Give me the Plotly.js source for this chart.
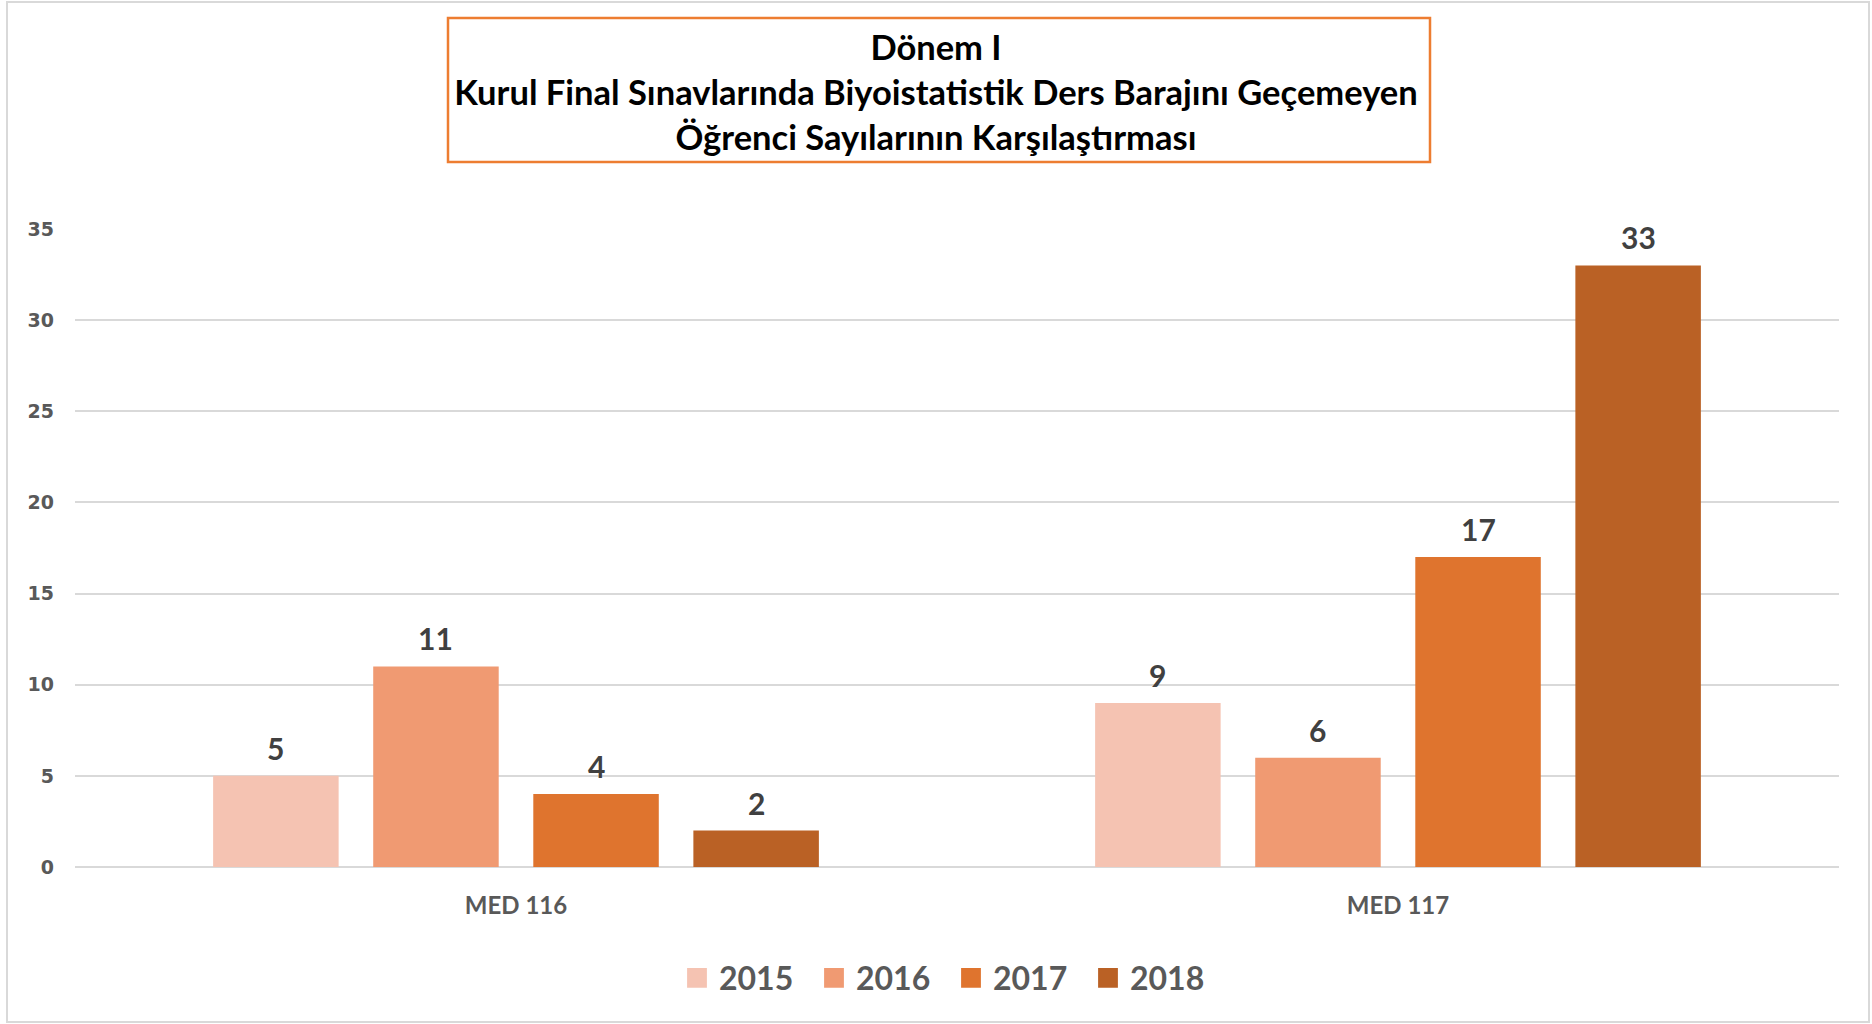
<!DOCTYPE html>
<html>
<head>
<meta charset="utf-8">
<script src="https://cdn.plot.ly/plotly-3.0.1.min.js"></script>
<style>
html,body{margin:0;padding:0;background:#fff}
#chart .legend .legendpoints path{transform:translate(18px,0) scale(1.65);}
</style>
</head>
<body>
<div id="chart" style="width:1872px;height:1024px"></div>
<script>
// ---- data ----
const categories = ["MED 116", "MED 117"];
const years = ["2015", "2016", "2017", "2018"];
const values2015 = [5, 9];
const values2016 = [11, 6];
const values2017 = [4, 17];
const values2018 = [2, 33];
const titleLines = [
  "Dönem I",
  "Kurul Final Sınavlarında Biyoistatistik Ders Barajını Geçemeyen",
  "Öğrenci Sayılarının Karşılaştırması"
];
const yTicks = [0, 5, 10, 15, 20, 25, 30, 35];

// ---- style ----
const colors = ["#F5C3B2", "#F09A72", "#DF742E", "#BA6125"];
const series = [values2015, values2016, values2017, values2018];
const W = 1872, H = 1024;
const M = {l: 75, r: 33, t: 229, b: 157};
const bargap = 0.274, bargroupgap = 0.216;
const plotW = W - M.l - M.r, plotH = H - M.t - M.b;
const px2x = p => (p - M.l) / plotW;
const px2y = p => (H - M.b - p) / plotH;
const catPx = plotW / categories.length;
const slotPx = catPx * (1 - bargap) / series.length;
const labelFont = {family: "Lato, 'Noto Sans', sans-serif", size: 30, color: "#404040", weight: 700};

const traces = series.map((vals, i) => ({
  type: "bar",
  name: years[i],
  x: categories,
  y: vals,
  marker: {color: colors[i], line: {width: 0}},
  hoverinfo: "x+y+name"
}));

const annotations = [];
series.forEach((vals, i) => {
  vals.forEach((v, j) => {
    annotations.push({
      x: categories[j], y: v, xref: "x", yref: "y",
      text: String(v), showarrow: false,
      xanchor: "center", yanchor: "bottom",
      xshift: (i - (series.length - 1) / 2) * slotPx,
      yshift: 8,
      font: labelFont
    });
  });
});

const layout = {
  width: W, height: H,
  margin: M,
  paper_bgcolor: "#ffffff",
  plot_bgcolor: "#ffffff",
  barmode: "group",
  bargap: bargap,
  bargroupgap: bargroupgap,
  title: {
    text: titleLines.map(s => "<b>" + s + "</b>").join("<br>"),
    font: {family: "Lato, 'Noto Sans', sans-serif", size: 34.5, color: "#000000"},
    xref: "container", x: 0.5, xanchor: "center",
    yref: "container", y: 1 - 60 / H, yanchor: "middle"
  },
  xaxis: {
    type: "category",
    showgrid: false, showline: false, ticks: "",
    tickfont: {family: "Lato, 'Noto Sans', sans-serif", size: 24, color: "#595959", weight: 700},
    ticklabelstandoff: 22
  },
  yaxis: {
    range: [0, 35],
    tickvals: yTicks,
    showgrid: true, gridcolor: "#d9d9d9", gridwidth: 2,
    zeroline: true, zerolinecolor: "#d9d9d9", zerolinewidth: 2,
    showline: false, ticks: "",
    tickfont: {family: "'DejaVu Sans', Verdana, sans-serif", size: 19, color: "#595959", weight: 700},
    ticklabelstandoff: 20
  },
  showlegend: true,
  legend: {
    orientation: "h",
    xref: "paper", x: px2x(953), xanchor: "center",
    yref: "paper", y: px2y(978), yanchor: "middle",
    font: {family: "Lato, 'Noto Sans', sans-serif", size: 32, color: "#595959", weight: 700},
    entrywidth: 92, entrywidthmode: "pixels",
    itemwidth: 30,
    bgcolor: "rgba(0,0,0,0)"
  },
  annotations: annotations,
  shapes: [
    {type: "rect", xref: "paper", yref: "paper",
     x0: px2x(7), x1: px2x(1869), y0: px2y(1022), y1: px2y(2),
     line: {color: "#d9d9d9", width: 2}, fillcolor: "rgba(0,0,0,0)", layer: "below"},
    {type: "rect", xref: "paper", yref: "paper",
     x0: px2x(448), x1: px2x(1430), y0: px2y(162), y1: px2y(18),
     line: {color: "#ED7D31", width: 2.5}, fillcolor: "rgba(0,0,0,0)"}
  ]
};

Plotly.newPlot("chart", traces, layout, {displayModeBar: false});
</script>
</body>
</html>
